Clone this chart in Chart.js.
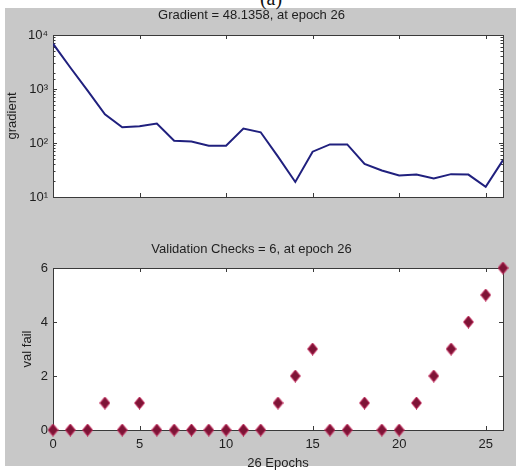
<!DOCTYPE html>
<html>
<head>
<meta charset="utf-8">
<script src="https://cdn.jsdelivr.net/npm/chart.js@4.4.1/dist/chart.umd.min.js"></script>
<style>
    body { margin: 0; background: #fff; }
    .frame { position: relative; width: 528px; height: 471px; overflow: hidden; }
    .panel { position: absolute; left: 5px; top: 8px; width: 511px; height: 458px; background: #c8c8c8; }
    .caption { position: absolute; left: 0; width: 542px; top: -12px; text-align: center;
               font: 20px "Liberation Serif", serif; color: #111; line-height: 20px; }
    canvas { position: absolute; left: 0; }
    #gradChart { top: 0; }
    #valChart { top: 232px; }
</style>
</head>
<body>
<div class="frame">
    <div class="panel"></div>
    <div class="caption">(a)</div>
    <canvas id="gradChart" width="528" height="232"></canvas>
    <canvas id="valChart" width="528" height="239"></canvas>
</div>
<script>
// data
const epochs = [0, 1, 2, 3, 4, 5, 6, 7, 8, 9, 10, 11, 12, 13, 14, 15, 16, 17, 18, 19, 20, 21, 22, 23, 24, 25, 26];
const gradient = [6900, 2500, 930, 340, 195, 205, 230, 110, 107, 89, 89, 185, 158, 56, 19, 69, 94, 94, 41, 31, 25, 26, 22, 26.5, 26, 15.5, 48.1358];
const valFail = [0, 0, 0, 1, 0, 1, 0, 0, 0, 0, 0, 0, 0, 1, 2, 3, 0, 0, 1, 0, 0, 1, 2, 3, 4, 5, 6];
const epochTicks = [0, 5, 10, 15, 20, 25];
const logTickLabels = { 10: '10¹', 100: '10²', 1000: '10³', 10000: '10⁴' };

const textColor = '#1e1e1e';
const fontFamily = '"Liberation Sans", Arial, sans-serif';

// tall diamond marker
function makeDiamond() {
    const c = document.createElement('canvas');
    c.width = 11; c.height = 13;
    const g = c.getContext('2d');
    g.beginPath();
    g.moveTo(5.5, 0.5); g.lineTo(10.5, 6.5); g.lineTo(5.5, 12.5); g.lineTo(0.5, 6.5);
    g.closePath();
    g.fillStyle = '#7e1436';
    g.fill();
    g.strokeStyle = '#c8265a';
    g.lineWidth = 1;
    g.stroke();
    return c;
}

// white axes box with inward ticks, like matlab
const matlabAxes = {
    id: 'matlabAxes',
    beforeDatasetsDraw(chart) {
        const ctx = chart.ctx;
        const a = chart.chartArea;
        ctx.save();
        ctx.fillStyle = '#ffffff';
        ctx.fillRect(a.left, a.top, a.width, a.height);
        ctx.strokeStyle = '#3a3a3a';
        ctx.lineWidth = 1;
        ctx.beginPath();
        chart.scales.x.ticks.forEach(t => {
            const px = Math.round(chart.scales.x.getPixelForValue(t.value)) + 0.5;
            ctx.moveTo(px, a.bottom); ctx.lineTo(px, a.bottom - 4);
            ctx.moveTo(px, a.top); ctx.lineTo(px, a.top + 4);
        });
        const y = chart.scales.y;
        y.ticks.forEach(t => {
            const py = Math.round(y.getPixelForValue(t.value)) + 0.5;
            let len = 4;
            if (y.type === 'logarithmic' && !Number.isInteger(Math.log10(t.value))) len = 2.5;
            ctx.moveTo(a.left, py); ctx.lineTo(a.left + len, py);
            ctx.moveTo(a.right, py); ctx.lineTo(a.right - len, py);
        });
        ctx.stroke();
        ctx.strokeRect(Math.round(a.left) + 0.5, Math.round(a.top) + 0.5, Math.round(a.width), Math.round(a.height));
        ctx.restore();
    }
};

function setEpochTicks(scale) {
    scale.ticks = epochTicks.map(v => ({ value: v }));
}

Chart.defaults.font.family = fontFamily;
Chart.defaults.font.size = 13;
Chart.defaults.color = textColor;

// Gradient plot
new Chart(document.getElementById('gradChart'), {
    type: 'line',
    data: {
        datasets: [{
            data: epochs.map((e, i) => ({ x: e, y: gradient[i] })),
            borderColor: '#20207e',
            borderWidth: 2,
            pointRadius: 0,
            tension: 0
        }]
    },
    options: {
        responsive: false,
        animation: false,
        layout: { padding: { left: 0, right: 25, top: 0, bottom: 0 } },
        plugins: {
            legend: { display: false },
            tooltip: { enabled: false },
            title: {
                display: true,
                text: 'Gradient = 48.1358, at epoch 26',
                font: { size: 13, weight: 'normal' },
                color: textColor,
                padding: { top: 7.2, bottom: 12.2 }
            }
        },
        scales: {
            x: {
                type: 'linear', min: 0, max: 26,
                ticks: { display: false },
                afterBuildTicks: setEpochTicks,
                grid: { display: false, drawTicks: false },
                border: { display: false },
                afterFit: s => { s.height = 35; }
            },
            y: {
                type: 'logarithmic', min: 10, max: 10000,
                ticks: {
                    autoSkip: false, padding: 5,
                    callback: v => logTickLabels[v] || ''
                },
                grid: { display: false, drawTicks: false },
                border: { display: false },
                title: { display: true, text: 'gradient', padding: { top: 5, bottom: 0 }, font: { size: 13 } },
                afterFit: s => { s.width = 53; }
            }
        }
    },
    plugins: [matlabAxes]
});

// Validation checks plot
new Chart(document.getElementById('valChart'), {
    type: 'scatter',
    data: {
        datasets: [{
            data: epochs.map((e, i) => ({ x: e, y: valFail[i] })),
            pointStyle: makeDiamond(),
            clip: false
        }]
    },
    options: {
        responsive: false,
        animation: false,
        layout: { padding: { left: 0, right: 25, top: 0, bottom: 0 } },
        plugins: {
            legend: { display: false },
            tooltip: { enabled: false },
            title: {
                display: true,
                text: 'Validation Checks = 6, at epoch 26',
                font: { size: 13, weight: 'normal' },
                color: textColor,
                padding: { top: 9.2, bottom: 11.2 }
            }
        },
        scales: {
            x: {
                type: 'linear', min: 0, max: 26,
                ticks: { padding: 7 },
                afterBuildTicks: setEpochTicks,
                grid: { display: false, drawTicks: false },
                border: { display: false },
                title: { display: true, text: '26 Epochs', padding: { top: 0, bottom: 0 }, font: { size: 13 } },
                afterFit: s => { s.height = 41; }
            },
            y: {
                type: 'linear', min: 0, max: 6,
                ticks: { stepSize: 2, padding: 5 },
                grid: { display: false, drawTicks: false },
                border: { display: false },
                title: { display: true, text: 'val fail', padding: { top: 20, bottom: 0 }, font: { size: 13 } },
                afterFit: s => { s.width = 53; }
            }
        }
    },
    plugins: [matlabAxes]
});
</script>
</body>
</html>
